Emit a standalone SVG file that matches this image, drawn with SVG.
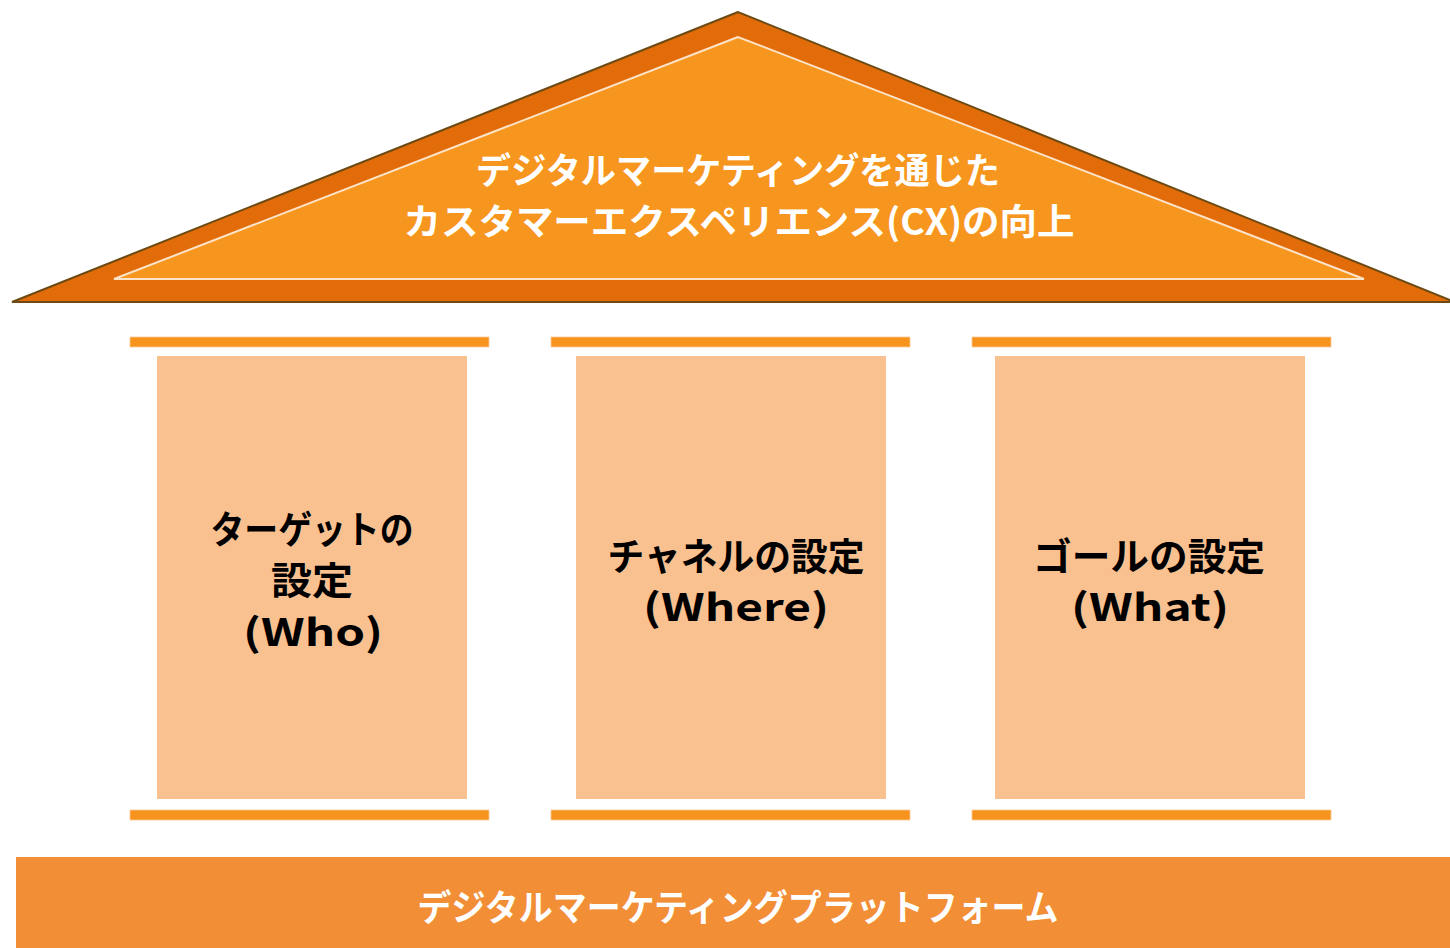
<svg xmlns="http://www.w3.org/2000/svg" width="1450" height="948" viewBox="0 0 1450 948">
<style>
.roofText{font-family:"Noto Sans CJK JP","Noto Sans",sans-serif;font-weight:bold;font-size:36px;fill:#ffffff;text-anchor:middle}
.pText{font-family:"Noto Sans CJK JP","Noto Sans",sans-serif;font-weight:bold;font-size:38px;fill:#000000;text-anchor:middle}
.bar{fill:#f7941d;stroke:#fbc99a;stroke-width:0.8}
.pillar{fill:#f9c090}
</style>
<rect width="1450" height="948" fill="#ffffff"/>
<g id="roof">
<polygon points="738,12 12,302 1450,302 1450,300" fill="#e36c0a" stroke="#6b4a14" stroke-width="2" stroke-linejoin="miter"/>
<polygon points="738,37 114,279 1364,279" fill="#f7961e" stroke="#fde3c8" stroke-width="2"/>
<text class="roofText" x="738" y="184" textLength="524" lengthAdjust="spacingAndGlyphs">デジタルマーケティングを通じた</text>
<text class="roofText" x="739" y="235" textLength="671" lengthAdjust="spacingAndGlyphs">カスタマーエクスペリエンス(CX)の向上</text>
</g>
<g id="pillar-who">
<rect class="bar" x="130" y="337" width="359" height="10"/>
<rect class="pillar" x="157" y="356" width="310" height="443"/>
<rect class="bar" x="130" y="810" width="359" height="10"/>
<text class="pText" x="312" y="543" textLength="203" lengthAdjust="spacingAndGlyphs">ターゲットの</text>
<text class="pText" x="312" y="594" textLength="82" lengthAdjust="spacingAndGlyphs">設定</text>
<text class="pText" x="313" y="646" textLength="140" lengthAdjust="spacingAndGlyphs">(Who)</text>
</g>
<g id="pillar-where">
<rect class="bar" x="551" y="337" width="359" height="10"/>
<rect class="pillar" x="576" y="356" width="310" height="443"/>
<rect class="bar" x="551" y="810" width="359" height="10"/>
<text class="pText" x="736" y="570" textLength="257" lengthAdjust="spacingAndGlyphs">チャネルの設定</text>
<text class="pText" x="736" y="621" textLength="186" lengthAdjust="spacingAndGlyphs">(Where)</text>
</g>
<g id="pillar-what">
<rect class="bar" x="972" y="337" width="359" height="10"/>
<rect class="pillar" x="995" y="356" width="310" height="443"/>
<rect class="bar" x="972" y="810" width="359" height="10"/>
<text class="pText" x="1149" y="570" textLength="232" lengthAdjust="spacingAndGlyphs">ゴールの設定</text>
<text class="pText" x="1150" y="621" textLength="158" lengthAdjust="spacingAndGlyphs">(What)</text>
</g>
<g id="base">
<rect x="16" y="857" width="1434" height="91" fill="#f28e36"/>
<text class="roofText" x="738" y="921" textLength="641" lengthAdjust="spacingAndGlyphs">デジタルマーケティングプラットフォーム</text>
</g>
<g id="connectors"></g>
</svg>
